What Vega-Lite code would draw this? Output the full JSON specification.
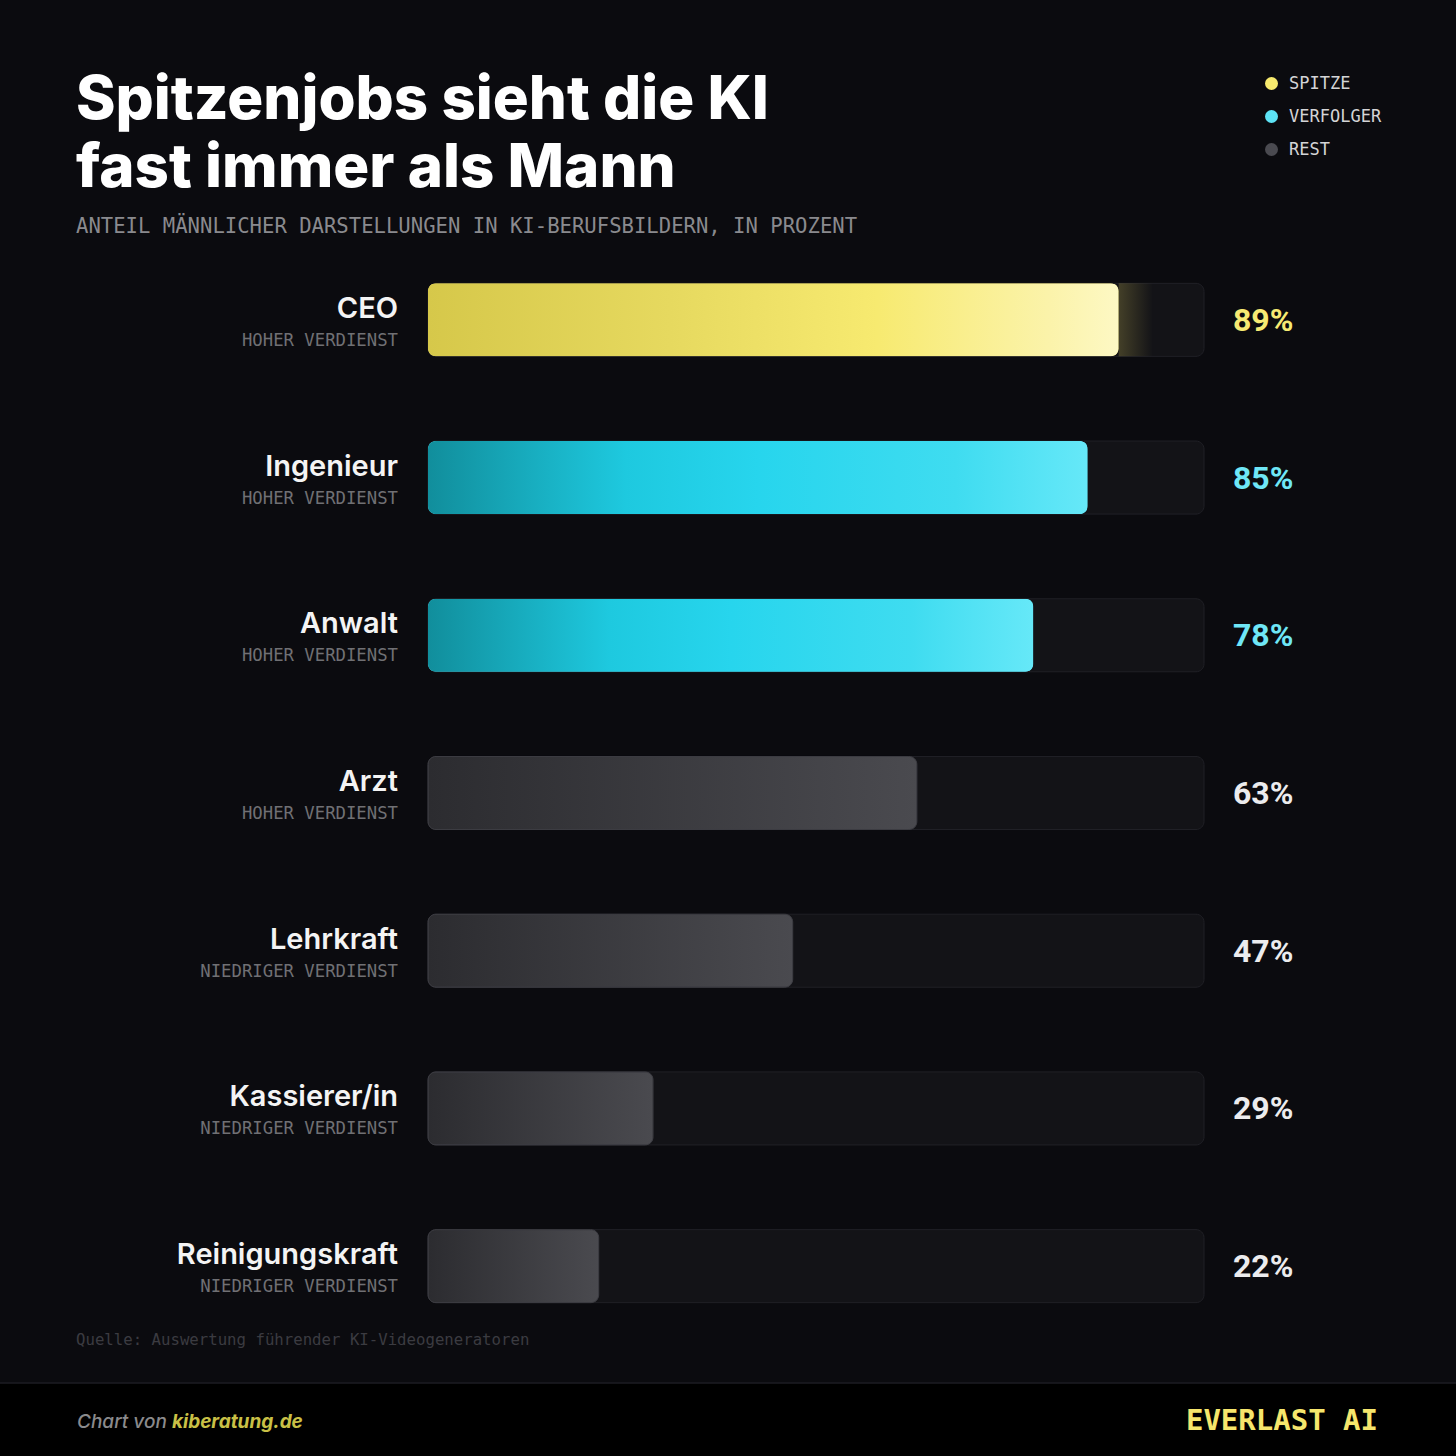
{
  "$schema": "https://vega.github.io/schema/vega-lite/v6.json",
  "width": 776,
  "height": 1104,
  "autosize": "none",
  "padding": {"left": 428, "top": 241, "right": 252, "bottom": 111},
  "background": "#0b0b0f",
  "config": {"view": {"stroke": null}},
  "title": {
    "text": ["Spitzenjobs sieht die KI", "fast immer als Mann"],
    "subtitle": "ANTEIL MÄNNLICHER DARSTELLUNGEN IN KI-BERUFSBILDERN, IN PROZENT",
    "anchor": "start",
    "frame": "group",
    "dx": -352,
    "dy": 172,
    "offset": 8,
    "font": "Inter",
    "fontSize": 60,
    "fontWeight": 800,
    "color": "#ffffff",
    "lineHeight": 68,
    "subtitleFont": "DejaVu Sans Mono",
    "subtitleFontSize": 20.6,
    "subtitleColor": "#8a8a8e",
    "subtitlePadding": 17
  },
  "datasets": {
    "jobs": [
      {"job": "CEO", "cat": "HOHER VERDIENST", "value": 89, "group": "SPITZE"},
      {"job": "Ingenieur", "cat": "HOHER VERDIENST", "value": 85, "group": "VERFOLGER"},
      {"job": "Anwalt", "cat": "HOHER VERDIENST", "value": 78, "group": "VERFOLGER"},
      {"job": "Arzt", "cat": "HOHER VERDIENST", "value": 63, "group": "REST"},
      {"job": "Lehrkraft", "cat": "NIEDRIGER VERDIENST", "value": 47, "group": "REST"},
      {"job": "Kassierer/in", "cat": "NIEDRIGER VERDIENST", "value": 29, "group": "REST"},
      {"job": "Reinigungskraft", "cat": "NIEDRIGER VERDIENST", "value": 22, "group": "REST"}
    ]
  },
  "layer": [
    {
      "data": {"name": "jobs"},
      "mark": {"type": "rect", "cornerRadius": 8, "fill": "#131317", "stroke": "#202026", "strokeWidth": 1},
      "encoding": {
        "x": {"datum": 0, "type": "quantitative", "scale": {"domain": [0, 100]}, "axis": null},
        "x2": {"datum": 100},
        "y": {"field": "job", "type": "nominal", "sort": null, "axis": null, "scale": {"paddingInner": 0.537, "paddingOuter": 0.2685}}
      }
    },
    {
      "data": {"name": "jobs"},
      "transform": [{"filter": "datum.group === 'SPITZE'"}],
      "mark": {"type": "rect", "fill": {"gradient": "linear", "x1": 0, "x2": 1, "y1": 0, "y2": 0, "stops": [{"offset": 0, "color": "rgba(240,222,100,0.22)"}, {"offset": 0.4, "color": "rgba(240,222,100,0)"}]}},
      "encoding": {
        "x": {"field": "value", "type": "quantitative"},
        "x2": {"datum": 100},
        "y": {"field": "job", "type": "nominal", "sort": null}
      }
    },
    {
      "data": {"name": "jobs"},
      "mark": {"type": "bar", "cornerRadius": 8},
      "encoding": {
        "x": {"field": "value", "type": "quantitative"},
        "y": {"field": "job", "type": "nominal", "sort": null},
        "color": {
          "field": "group",
          "type": "nominal",
          "scale": {"domain": ["SPITZE", "VERFOLGER", "REST"], "range": ["#f7ea6e", "#5de3f5", "#4a4a50"]},
          "legend": {
            "orient": "none",
            "legendX": 835,
            "legendY": -166,
            "title": null,
            "padding": 0,
            "symbolType": "circle",
            "symbolSize": 169,
            "symbolOpacity": 1,
            "symbolStrokeWidth": 0,
            "labelFont": "DejaVu Sans Mono",
            "labelFontSize": 17,
            "labelFontWeight": 500,
            "labelColor": "#d4d4d6",
            "labelOffset": 9,
            "rowPadding": 15
          }
        }
      }
    },
    {
      "data": {"name": "jobs"},
      "transform": [{"filter": "datum.group === 'SPITZE'"}],
      "mark": {"type": "bar", "cornerRadius": 8, "fill": {"gradient": "linear", "x1": 0, "x2": 1, "y1": 0, "y2": 0, "stops": [{"offset": 0, "color": "#d6c84a"}, {"offset": 0.35, "color": "#e6d95f"}, {"offset": 0.65, "color": "#f7ea70"}, {"offset": 0.9, "color": "#fbf3aa"}, {"offset": 1, "color": "#fdf8c4"}]}},
      "encoding": {
        "x": {"field": "value", "type": "quantitative"},
        "y": {"field": "job", "type": "nominal", "sort": null}
      }
    },
    {
      "data": {"name": "jobs"},
      "transform": [{"filter": "datum.group === 'VERFOLGER'"}],
      "mark": {"type": "bar", "cornerRadius": 8, "fill": {"gradient": "linear", "x1": 0, "x2": 1, "y1": 0, "y2": 0, "stops": [{"offset": 0, "color": "#118e9c"}, {"offset": 0.3, "color": "#1ec9df"}, {"offset": 0.5, "color": "#27d5ed"}, {"offset": 0.8, "color": "#3fdcf0"}, {"offset": 1, "color": "#66e8f8"}]}},
      "encoding": {
        "x": {"field": "value", "type": "quantitative"},
        "y": {"field": "job", "type": "nominal", "sort": null}
      }
    },
    {
      "data": {"name": "jobs"},
      "transform": [{"filter": "datum.group === 'REST'"}],
      "mark": {"type": "bar", "cornerRadius": 8, "stroke": "#3c3c42", "strokeWidth": 1, "fill": {"gradient": "linear", "x1": 0, "x2": 1, "y1": 0, "y2": 0, "stops": [{"offset": 0, "color": "#2c2c30"}, {"offset": 1, "color": "#4a4a4f"}]}},
      "encoding": {
        "x": {"field": "value", "type": "quantitative"},
        "y": {"field": "job", "type": "nominal", "sort": null}
      }
    },
    {
      "data": {"name": "jobs"},
      "mark": {"type": "text", "align": "right", "baseline": "alphabetic", "dx": -30, "dy": -2, "font": "Inter", "fontSize": 29, "fontWeight": 600, "fill": "#f4f4f4"},
      "encoding": {
        "x": {"datum": 0},
        "y": {"field": "job", "type": "nominal", "sort": null},
        "text": {"field": "job"}
      }
    },
    {
      "data": {"name": "jobs"},
      "mark": {"type": "text", "align": "right", "baseline": "alphabetic", "dx": -30, "dy": 26, "font": "DejaVu Sans Mono", "fontSize": 17.3, "fill": "#707074"},
      "encoding": {
        "x": {"datum": 0},
        "y": {"field": "job", "type": "nominal", "sort": null},
        "text": {"field": "cat"}
      }
    },
    {
      "data": {"name": "jobs"},
      "transform": [{"calculate": "datum.value + '%'", "as": "label"}],
      "mark": {"type": "text", "align": "left", "baseline": "middle", "dx": 29, "dy": 1, "font": "Roboto", "fontSize": 32, "fontWeight": 700},
      "encoding": {
        "x": {"datum": 100},
        "y": {"field": "job", "type": "nominal", "sort": null},
        "text": {"field": "label"},
        "color": {
          "condition": [
            {"test": "datum.group === 'SPITZE'", "value": "#f7ea73"},
            {"test": "datum.group === 'VERFOLGER'", "value": "#6fe7f7"}
          ],
          "value": "#ececee"
        }
      }
    },
    {
      "data": {"values": [{"t": "Quelle: Auswertung führender KI-Videogeneratoren"}]},
      "mark": {"type": "text", "align": "left", "baseline": "alphabetic", "font": "DejaVu Sans Mono", "fontSize": 15.7, "fill": "#3b3b41"},
      "encoding": {"x": {"value": -352}, "y": {"value": 1104}, "text": {"field": "t"}}
    },
    {
      "data": {"values": [{}]},
      "mark": {"type": "rect", "fill": "#000000"},
      "encoding": {"x": {"value": -428}, "x2": {"value": 1028}, "y": {"value": 1142}, "y2": {"value": 1215}}
    },
    {
      "data": {"values": [{}]},
      "mark": {"type": "rule", "stroke": "#1d1d23", "strokeWidth": 1.5},
      "encoding": {"x": {"value": -428}, "x2": {"value": 1028}, "y": {"value": 1142}}
    },
    {
      "data": {"values": [{"t": "Chart von"}]},
      "mark": {"type": "text", "align": "left", "baseline": "alphabetic", "font": "Inter", "fontSize": 19, "fontStyle": "italic", "fontWeight": 500, "fill": "#8a8a8c"},
      "encoding": {"x": {"value": -351}, "y": {"value": 1187}, "text": {"field": "t"}}
    },
    {
      "data": {"values": [{"t": "kiberatung.de"}]},
      "mark": {"type": "text", "align": "left", "baseline": "alphabetic", "font": "Inter", "fontSize": 19, "fontStyle": "italic", "fontWeight": 700, "fill": "#c9c046"},
      "encoding": {"x": {"value": -256}, "y": {"value": 1187}, "text": {"field": "t"}}
    },
    {
      "data": {"values": [{"t": "EVERLAST AI"}]},
      "mark": {"type": "text", "align": "right", "baseline": "alphabetic", "font": "DejaVu Sans Mono", "fontSize": 29, "fontWeight": 700, "fill": "#f6e66c"},
      "encoding": {"x": {"value": 950}, "y": {"value": 1189}, "text": {"field": "t"}}
    }
  ]
}
